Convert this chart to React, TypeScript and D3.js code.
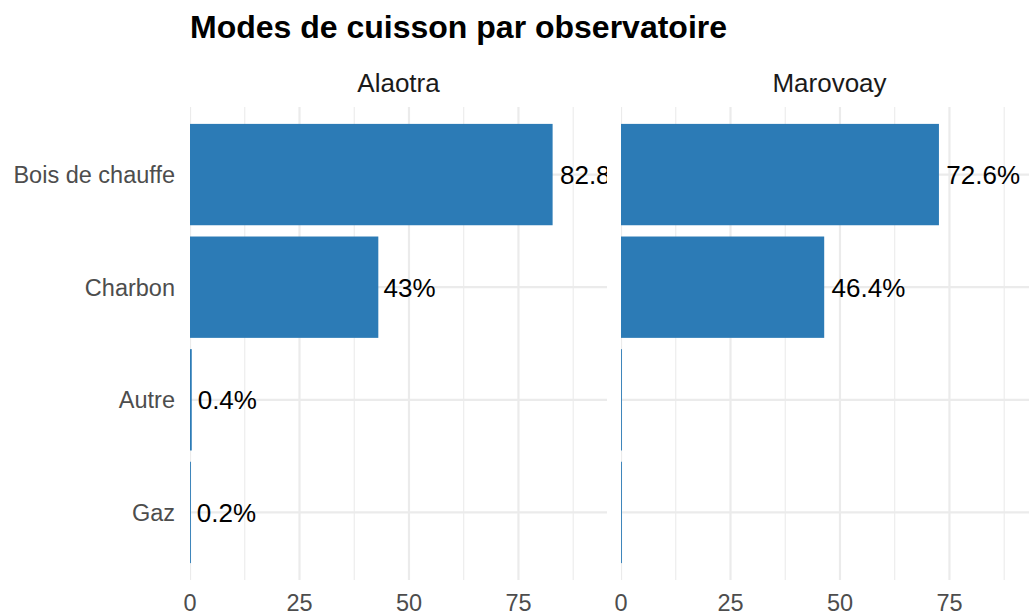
import React from "react";
import * as d3 from "d3";

const categories = ["Bois de chauffe", "Charbon", "Autre", "Gaz"];
const facets = ["Alaotra", "Marovoay"];
const alaotraValues = [82.8, 43, 0.4, 0.2];
const marovoayValues = [72.6, 46.4, 0, 0];
const alaotraLabels = ["82.8%", "43%", "0.4%", "0.2%"];
const marovoayLabels = ["72.6%", "46.4%", "", ""];
const majorTicks = [0, 25, 50, 75];
const minorTicks = [12.5, 37.5, 62.5, 87.5];
const title = "Modes de cuisson par observatoire";

const W = 1029;
const H = 615;
const FONT = "'Liberation Sans', Arial, Helvetica, sans-serif";
const BAR = "#2C7BB6";
const GRID = "#EBEBEB";

const panelLefts = [190, 621];
const panelWidth = 417;
const panelTop = 107;
const panelBottom = 580;

function measure(text: string, size: number): number {
  if (typeof document === "undefined") return text.length * size * 0.55;
  const c = document.createElement("canvas");
  const ctx = c.getContext("2d");
  if (!ctx) return text.length * size * 0.55;
  ctx.font = `${size}px 'Liberation Sans', Arial, sans-serif`;
  return ctx.measureText(text).width;
}

export default function App() {
  const maxVal = d3.max([...alaotraValues, ...marovoayValues]) as number;
  const yScale = d3
    .scaleBand<string>()
    .domain(categories)
    .range([panelTop, panelBottom])
    .paddingInner(0.1)
    .paddingOuter(0.55);
  // ggplot discrete expansion: 0.6 units each side, bar width 0.9
  const step = (panelBottom - panelTop) / (categories.length - 1 + 1.2);
  const yCenter = (c: string) => panelTop + step * (0.6 + categories.indexOf(c));
  const barH = step * 0.9;

  const series = [
    { name: facets[0], values: alaotraValues, labels: alaotraLabels },
    { name: facets[1], values: marovoayValues, labels: marovoayLabels },
  ];

  const labelSize = 26;

  return (
    <div style={{ position: "absolute", left: 0, top: 0 }}>
      <svg width={W} height={H} style={{ display: "block", background: "#fff" }}>
        <defs>
          {series.map((s, i) => (
            <clipPath id={`clip${i}`} key={i}>
              <rect x={panelLefts[i]} y={panelTop} width={panelWidth} height={panelBottom - panelTop} />
            </clipPath>
          ))}
        </defs>
        <text x={190} y={38} fontFamily={FONT} fontSize={32} fontWeight="bold" fill="#000">
          {title}
        </text>
        {series.map((s, i) => {
          const x = d3
            .scaleLinear()
            .domain([0, maxVal * 1.15])
            .range([panelLefts[i], panelLefts[i] + panelWidth]);
          return (
            <g key={s.name}>
              <text
                x={panelLefts[i] + panelWidth / 2}
                y={92}
                textAnchor="middle"
                fontFamily={FONT}
                fontSize={26}
                fill="#1A1A1A"
              >
                {s.name}
              </text>
              <g clipPath={`url(#clip${i})`}>
                {minorTicks.map((t) => (
                  <line key={"mi" + t} x1={x(t)} x2={x(t)} y1={panelTop} y2={panelBottom} stroke={GRID} strokeWidth={1.1} />
                ))}
                {majorTicks.map((t) => (
                  <line key={"ma" + t} x1={x(t)} x2={x(t)} y1={panelTop} y2={panelBottom} stroke={GRID} strokeWidth={2.2} />
                ))}
                {categories.map((c) => (
                  <line
                    key={"h" + c}
                    x1={panelLefts[i]}
                    x2={panelLefts[i] + panelWidth}
                    y1={yCenter(c)}
                    y2={yCenter(c)}
                    stroke={GRID}
                    strokeWidth={2.2}
                  />
                ))}
                {categories.map((c, j) => {
                  const v = s.values[j];
                  const w = Math.max(x(v) - x(0), 0.9);
                  return (
                    <rect key={"b" + c} x={x(0)} y={yCenter(c) - barH / 2} width={w} height={barH} fill={BAR} />
                  );
                })}
                {categories.map((c, j) => {
                  const lab = s.labels[j];
                  if (!lab) return null;
                  const tw = measure(lab, labelSize);
                  return (
                    <text
                      key={"l" + c}
                      x={x(s.values[j]) + tw * 0.1}
                      y={yCenter(c)}
                      dy="0.36em"
                      fontFamily={FONT}
                      fontSize={labelSize}
                      fill="#000"
                    >
                      {lab}
                    </text>
                  );
                })}
              </g>
              {majorTicks.map((t) => (
                <text
                  key={"t" + t}
                  x={x(t)}
                  y={611}
                  textAnchor="middle"
                  fontFamily={FONT}
                  fontSize={23.5}
                  fill="#4D4D4D"
                >
                  {t}
                </text>
              ))}
            </g>
          );
        })}
        {categories.map((c) => (
          <text
            key={"y" + c}
            x={175}
            y={yCenter(c)}
            dy="0.36em"
            textAnchor="end"
            fontFamily={FONT}
            fontSize={23.5}
            fill="#4D4D4D"
          >
            {c}
          </text>
        ))}
      </svg>
    </div>
  );
}
